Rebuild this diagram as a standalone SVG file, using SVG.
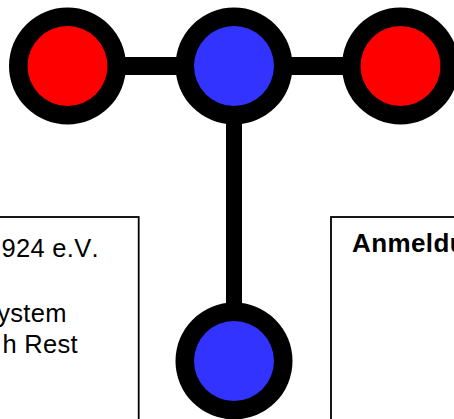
<svg xmlns="http://www.w3.org/2000/svg" width="454" height="419" viewBox="0 0 454 419">
<style>
.outer{fill:#000}
.red{fill:#ff0000}
.blue{fill:#3333ff}
.box{fill:#fff;stroke:#000;stroke-width:1.800}
.h{stroke:#000;stroke-width:18;fill:none}
.v{stroke:#000;stroke-width:16;fill:none}
text{font-family:"Liberation Sans",Arial,sans-serif;font-size:25.500px;fill:#000;letter-spacing:.3px;font-kerning:none}
.b{font-weight:bold;font-size:26px;letter-spacing:.4px}
</style>
<rect width="454" height="419" fill="#fff"/>
<g id="box-left"><rect class="box" x="-5" y="217" width="143.700" height="210"/>
<text x="1.500" y="257.300">924 e.V.</text>
<text x="-2.800" y="321.700">ystem</text>
<text x="2.500" y="353">h Rest</text></g>
<g id="box-right"><rect class="box" x="331" y="217" width="135" height="210"/>
<text class="b" x="352" y="252">Anmeldu</text></g>
<g id="connectors">
<line class="h" x1="67.500" y1="66" x2="400" y2="66"/>
<line class="v" x1="234" y1="66" x2="234" y2="361"/>
</g>
<g id="node-left"><circle class="outer" cx="67.500" cy="66" r="58.500"/><circle class="red" cx="67.500" cy="66" r="40"/></g>
<g id="node-center"><circle class="outer" cx="234" cy="66" r="58.500"/><circle class="blue" cx="234" cy="66" r="40"/></g>
<g id="node-right"><circle class="outer" cx="400.500" cy="66" r="58.500"/><circle class="red" cx="400.500" cy="66" r="40"/></g>
<g id="node-bottom"><circle class="outer" cx="234" cy="361" r="58.500"/><circle class="blue" cx="234" cy="361" r="40"/></g>
</svg>
